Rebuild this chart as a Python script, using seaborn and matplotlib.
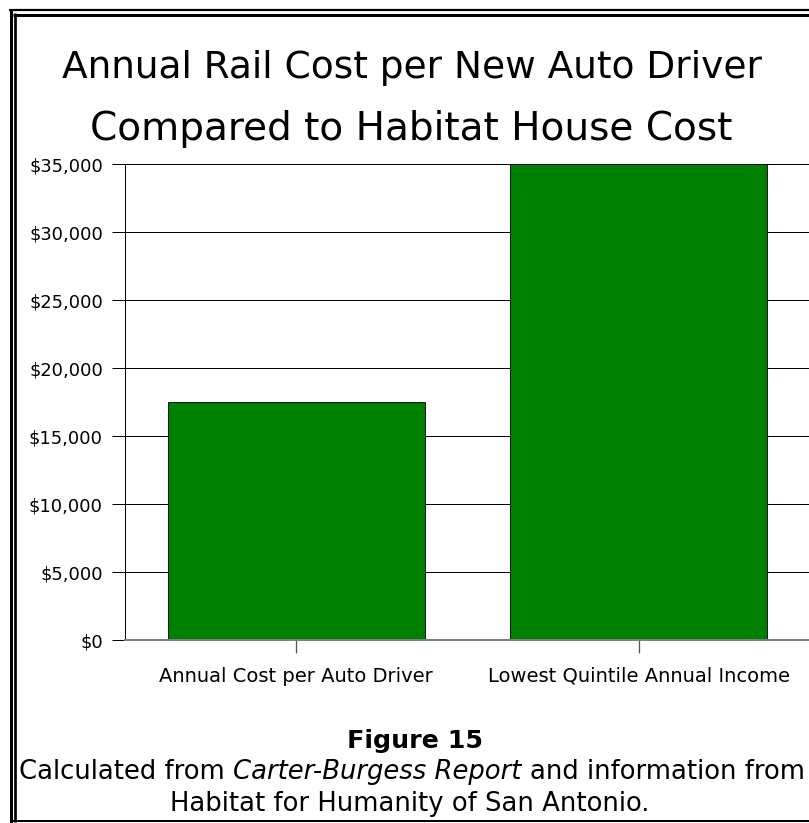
import matplotlib
matplotlib.use("Agg")
import matplotlib.pyplot as plt
import seaborn as sns
import pandas as pd
from matplotlib.lines import Line2D
from matplotlib.ticker import FuncFormatter, MultipleLocator

# ---- data ----
categories = ["Annual Cost per Auto Driver", "Lowest Quintile Annual Income"]
values = [17500, 35000]
title_lines = ["Annual Rail Cost per New Auto Driver", "Compared to Habitat House Cost"]
figure_label = "Figure 15"
caption_parts = [("Calculated from", "normal"), ("Carter-Burgess Report", "italic"),
                 ("and information from", "normal")]
caption_line2 = "Habitat for Humanity of San Antonio."

df = pd.DataFrame({"category": categories, "value": values})

W, H = 809, 823
DPI = 100
sns.set_style("white")
plt.rcParams["font.family"] = ["DejaVu Sans"]

fig = plt.figure(figsize=(W / DPI, H / DPI), dpi=DPI)
fig.patch.set_facecolor("white")

def fx(px):
    return px / W

def fy(py):
    return 1 - py / H

PT = 72.0 / DPI  # points per pixel

ax = fig.add_axes([fx(125), fy(640), fx(810) - fx(125), fy(164) - fy(640)])
sns.barplot(data=df, x="category", y="value", ax=ax, color="#008000",
            edgecolor="#1a1a1a", linewidth=1 * PT, width=0.75, saturation=1)
ax.set_xlim(-0.5, 1.5)
ax.set_ylim(0, 35000)
ax.yaxis.set_major_locator(MultipleLocator(5000))
ax.yaxis.set_major_formatter(FuncFormatter(lambda v, p: "${:,.0f}".format(v)))
ax.set_xlabel("")
ax.set_ylabel("")
ax.grid(axis="y", color="black", linewidth=1 * PT)
ax.set_axisbelow(True)
ax.spines["right"].set_visible(False)
ax.spines["top"].set_color("black")
ax.spines["top"].set_linewidth(1 * PT)
ax.spines["left"].set_color("black")
ax.spines["left"].set_linewidth(1 * PT)
ax.spines["bottom"].set_color("#808080")
ax.spines["bottom"].set_linewidth(2 * PT)
ax.tick_params(axis="y", direction="out", length=13 * PT, width=1 * PT,
               color="black", pad=9 * PT, labelsize=12.9, left=True)
ax.tick_params(axis="x", direction="out", length=13 * PT, width=1.3 * PT,
               color="#555555", pad=14 * PT, labelsize=14, bottom=True)
for lab in ax.get_xticklabels() + ax.get_yticklabels():
    lab.set_color("black")

fig.canvas.draw()
renderer = fig.canvas.get_renderer()

def width_of(t):
    return t.get_window_extent(renderer).width

def fit(t, target):
    for _ in range(3):
        w = width_of(t)
        t.set_fontsize(t.get_fontsize() * target / w)

# ---- title ----
t1 = fig.text(fx(412), fy(78), title_lines[0], ha="center", va="baseline",
              fontsize=28, color="black")
fit(t1, 700)
t2 = fig.text(fx(411), fy(140), title_lines[1], ha="center", va="baseline",
              fontsize=28, color="black")
fit(t2, 644)

# ---- figure label ----
fl = fig.text(fx(415), fy(748), figure_label, ha="center", va="baseline",
              fontsize=20, fontweight="bold", color="black")
fit(fl, 136)

# ---- caption line 1 (mixed styles) ----
size = 16.0
segs = [fig.text(0, fy(779), txt, ha="left", va="baseline", fontsize=size,
                 fontstyle=st, color="black") for txt, st in caption_parts]
probe = fig.text(0, 0, "a a", fontsize=size)
probe2 = fig.text(0, 0, "aa", fontsize=size)

def total_width():
    sp = width_of(probe) - width_of(probe2)
    ws = [width_of(s) for s in segs]
    return ws, sp, sum(ws) + sp * (len(ws) - 1)

for _ in range(3):
    ws, sp, tot = total_width()
    scale = 785 / tot
    size *= scale
    for s in segs:
        s.set_fontsize(size)
    probe.set_fontsize(size)
    probe2.set_fontsize(size)
ws, sp, tot = total_width()
probe.remove()
probe2.remove()
x0 = 412 - tot / 2
for s, w in zip(segs, ws):
    s.set_x(fx(x0))
    x0 += w + sp

c2 = fig.text(fx(410), fy(811), caption_line2, ha="center", va="baseline",
              fontsize=size, color="black")

# ---- double border ----
def line(xs, ys, lw):
    fig.add_artist(Line2D([fx(x) for x in xs], [fy(y) for y in ys],
                          transform=fig.transFigure, color="black",
                          linewidth=lw * PT, solid_capstyle="butt"))

line([10.5, 10.5], [9, 823], 3)
line([9, 809], [10, 10], 2.2)
line([14.7, 14.7], [13, 822], 2.7)
line([13.3, 809], [14.6, 14.6], 3)
line([13.3, 809], [821, 821], 2)

fig.savefig("out.png", dpi=DPI, facecolor="white")
